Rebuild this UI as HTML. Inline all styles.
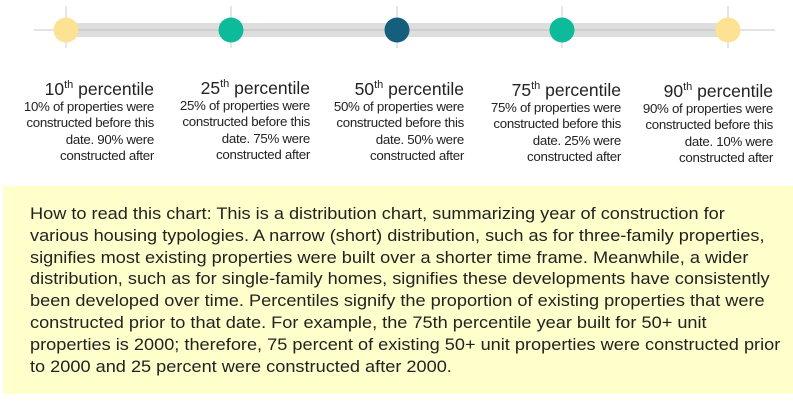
<!DOCTYPE html>
<html><head><style>
body{margin:0;width:793px;height:402px;background:#fff;font-family:"Liberation Sans",sans-serif;color:#222;position:relative;overflow:hidden}
.lbl{position:absolute;text-align:right;white-space:nowrap}
.lbl h{display:block;font-size:17.5px;line-height:19px;margin-bottom:0px}
.lbl h sup{font-size:11px;vertical-align:7px;line-height:0}
.lbl p{margin:0;font-size:13.3px;line-height:16.3px;letter-spacing:-0.3px}
.box{position:absolute;left:3px;top:186px;width:790px;height:208px;background:#ffffcc}
.box p{margin:0;position:absolute;left:27px;top:18px;font-size:16.3px;line-height:21.8px;white-space:nowrap;color:#222;transform:scaleX(1.115);transform-origin:0 0}
</style></head><body>
<svg width="793" height="60" style="position:absolute;left:0;top:0">
<line x1="34" y1="30" x2="775" y2="30" stroke="#e4e4e4" stroke-width="2"/>
<g stroke="#e6e6e6" stroke-width="2">
<line x1="66" y1="6" x2="66" y2="48"/><line x1="231" y1="6" x2="231" y2="48"/><line x1="397" y1="6" x2="397" y2="48"/><line x1="562" y1="6" x2="562" y2="48"/><line x1="728" y1="6" x2="728" y2="48"/></g>
<rect x="66" y="23" width="662" height="14" fill="#dedede"/>
<line x1="66" y1="30" x2="728" y2="30" stroke="#cfcfcf" stroke-width="2"/>
<circle cx="66" cy="30" r="12.5" fill="#fde293"/>
<circle cx="231" cy="30" r="12.5" fill="#0dbb9b"/>
<circle cx="397" cy="30" r="12.5" fill="#155f7d"/>
<circle cx="562" cy="30" r="12.5" fill="#0dbb9b"/>
<circle cx="728" cy="30" r="12.5" fill="#fde293"/>
</svg>
<div class="lbl" style="right:639px;top:80px"><h>10<sup>th</sup> percentile</h><p>10% of properties were<br>constructed before this<br>date. 90% were<br>constructed after</p></div>
<div class="lbl" style="right:483px;top:79px"><h>25<sup>th</sup> percentile</h><p>25% of properties were<br>constructed before this<br>date. 75% were<br>constructed after</p></div>
<div class="lbl" style="right:329px;top:80px"><h>50<sup>th</sup> percentile</h><p>50% of properties were<br>constructed before this<br>date. 50% were<br>constructed after</p></div>
<div class="lbl" style="right:172px;top:81px"><h>75<sup>th</sup> percentile</h><p>75% of properties were<br>constructed before this<br>date. 25% were<br>constructed after</p></div>
<div class="lbl" style="right:20px;top:82px"><h>90<sup>th</sup> percentile</h><p>90% of properties were<br>constructed before this<br>date. 10% were<br>constructed after</p></div>
<div class="box"><p>How to read this chart: This is a distribution chart, summarizing year of construction for<br>various housing typologies. A narrow (short) distribution, such as for three-family properties,<br>signifies most existing properties were built over a shorter time frame. Meanwhile, a wider<br>distribution, such as for single-family homes, signifies these developments have consistently<br>been developed over time. Percentiles signify the proportion of existing properties that were<br>constructed prior to that date. For example, the 75th percentile year built for 50+ unit<br>properties is 2000; therefore, 75 percent of existing 50+ unit properties were constructed prior<br>to 2000 and 25 percent were constructed after 2000.</p></div>
</body></html>
